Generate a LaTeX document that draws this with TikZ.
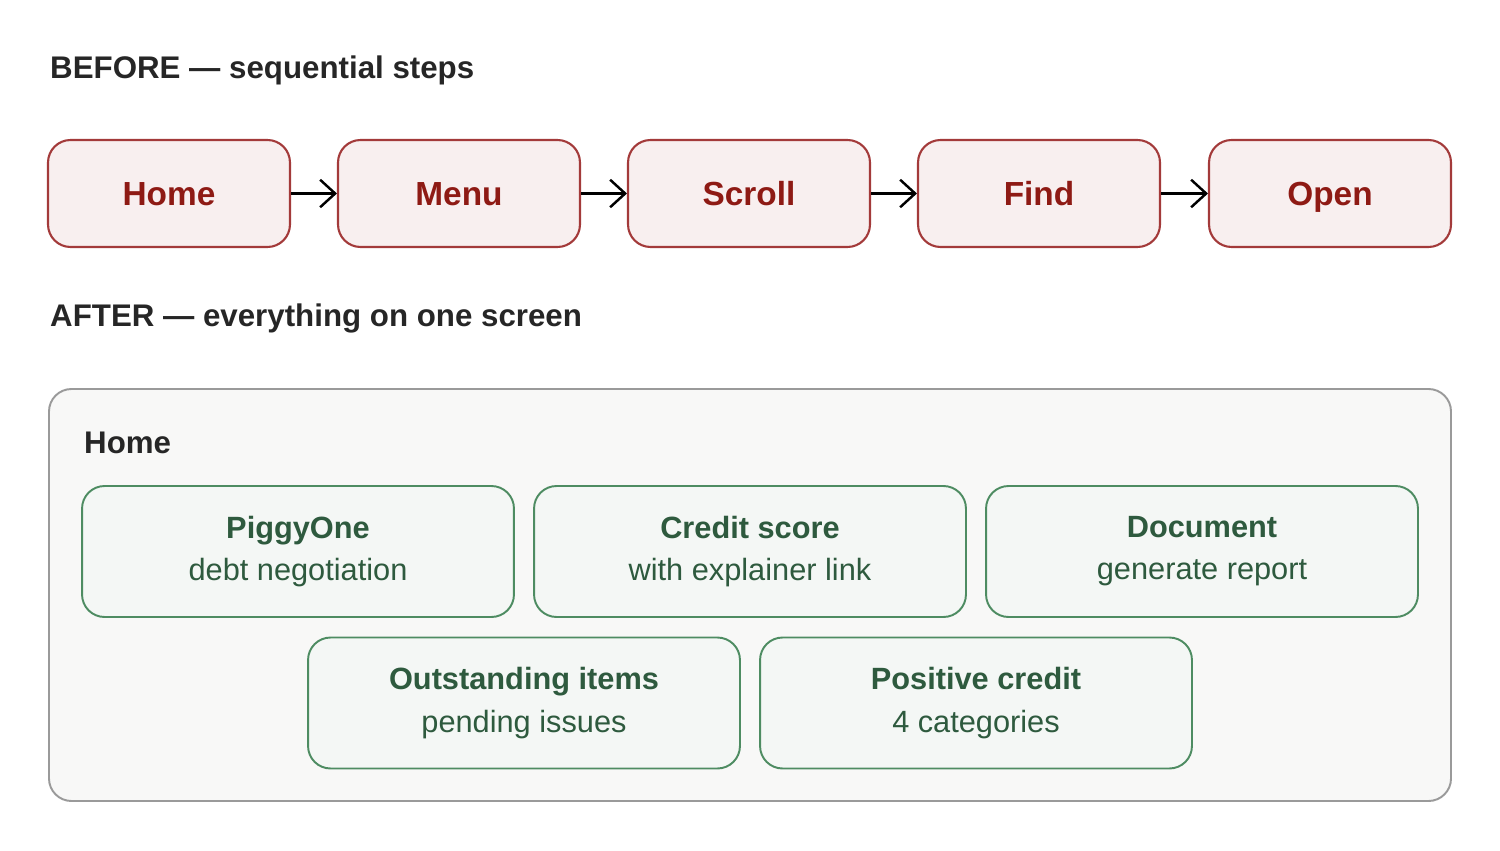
\documentclass[tikz,border=0pt]{standalone}
\usepackage{fontspec}
\setmainfont{Liberation Sans}
\usetikzlibrary{arrows.meta,positioning}
\definecolor{redline}{HTML}{A33A3A}
\definecolor{redfill}{HTML}{F8EFEF}
\definecolor{redtext}{HTML}{8E1A14}
\definecolor{greenline}{HTML}{4E8C62}
\definecolor{greenfill}{HTML}{F4F7F5}
\definecolor{greentext}{HTML}{2E5A3E}
\definecolor{panelline}{HTML}{9A9A9A}
\definecolor{panelfill}{HTML}{F8F8F7}
\tikzset{
  stepbox/.style={draw=redline, fill=redfill, line width=1.2pt, rounded corners=0.45cm,
    minimum width=4.84cm, minimum height=2.14cm, text=redtext,
    text height=13.5pt, text depth=0pt,
    font=\fontsize{19}{20}\selectfont\bfseries},
  card/.style={draw=greenline, fill=greenfill, line width=1.1pt, rounded corners=0.45cm,
    minimum width=8.64cm, minimum height=2.62cm, text=greentext, align=center,
    font=\fontsize{17.5}{24}\selectfont},
  heading/.style={anchor=west, text=black!85, font=\fontsize{17.8}{20}\selectfont\bfseries},
  go/.style={-{Straight Barb[length=3mm,width=5.5mm]}, line width=1.4pt},
}
\begin{document}
\begin{tikzpicture}[x=0.02cm,y=-0.02cm]
	\useasboundingbox (0,0) rectangle (1500,851);
	% before
	\node [heading] (before) at (44,70) {BEFORE — sequential steps};
	\node [stepbox] (home) at (169,193.5) {Home};
	\node [stepbox] (menu) at (459,193.5) {Menu};
	\node [stepbox] (scroll) at (749,193.5) {Scroll};
	\node [stepbox] (find) at (1039,193.5) {Find};
	\node [stepbox] (open) at (1330,193.5) {Open};
	\draw [go] (home) -- (menu);
	\draw [go] (menu) -- (scroll);
	\draw [go] (scroll) -- (find);
	\draw [go] (find) -- (open);
	% after
	\node [heading] (after) at (44,318) {AFTER — everything on one screen};
	\draw [draw=panelline, fill=panelfill, line width=1.1pt, rounded corners=0.45cm]
		(49,389) rectangle (1451,801);
	\node [heading] (screen) at (78,443) {Home};
	\node [card] (piggy) at (298,551.5) {\textbf{PiggyOne}\\debt negotiation};
	\node [card] (score) at (750,551.5) {\textbf{Credit score}\\with explainer link};
	\node [card] (doc) at (1202,551.5) {\textbf{Document}\\generate report};
	\node [card] (items) at (524,703) {\textbf{Outstanding items}\\pending issues};
	\node [card] (positive) at (976,703) {\textbf{Positive credit}\\4 categories};
\end{tikzpicture}
\end{document}
